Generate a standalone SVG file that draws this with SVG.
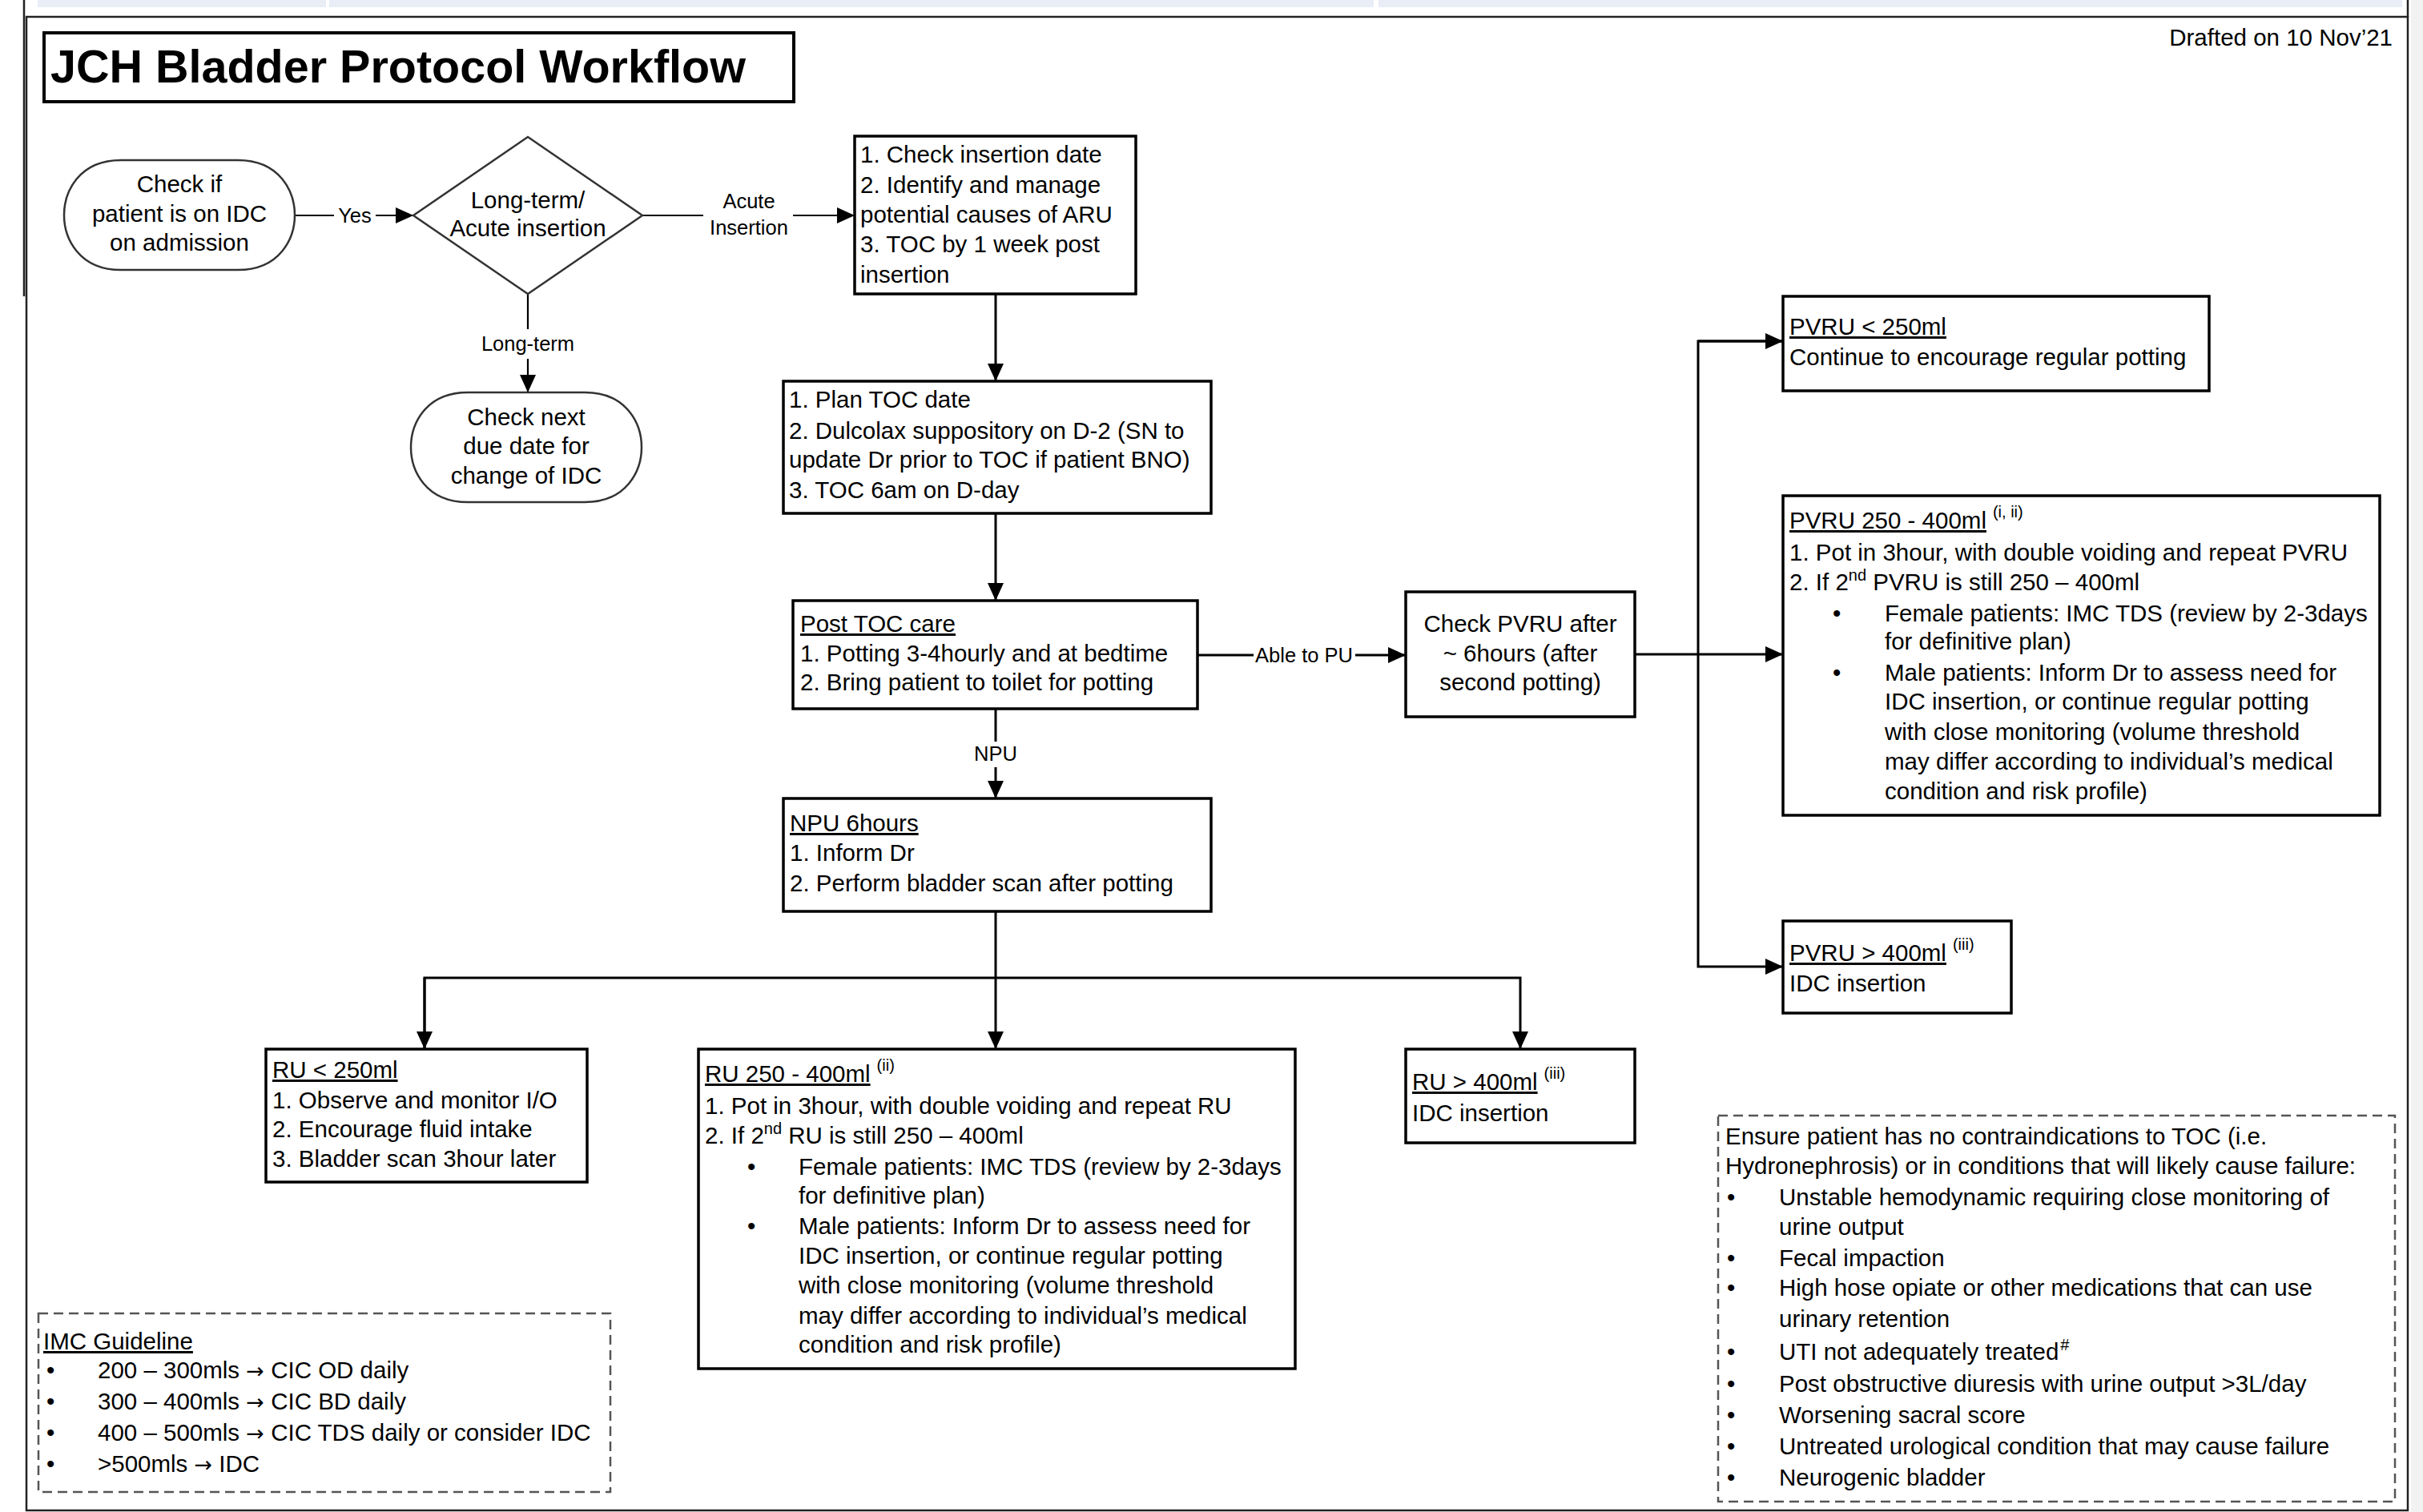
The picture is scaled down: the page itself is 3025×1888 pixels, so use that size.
<svg xmlns="http://www.w3.org/2000/svg" width="3025" height="1888" viewBox="0 0 3025 1888">
<defs>
<style>
.t{font-family:'Liberation Sans',Arial,sans-serif;font-size:29.5px;fill:#000}
.c{text-anchor:middle}
.lbl{font-family:'Liberation Sans',Arial,sans-serif;font-size:25.5px;fill:#000;text-anchor:middle}
.box{fill:#fff;stroke:#000;stroke-width:3.5}
.term{fill:#fff;stroke:#333;stroke-width:2.5}
.ln{stroke:#000;stroke-width:3;fill:none}
.thin{stroke:#000;stroke-width:2.2;fill:none}
.dash{fill:none;stroke:#555;stroke-width:2.5;stroke-dasharray:12 7}
.u{text-decoration:underline}
.sup{font-size:20px}
.ar{font-family:'DejaVu Sans',sans-serif;font-size:27px}
</style>
<marker id="ah" markerWidth="22" markerHeight="20" refX="22" refY="10" orient="auto" markerUnits="userSpaceOnUse"><path d="M0,0 L22,10 L0,20 Z" fill="#000"/></marker>
</defs>
<rect x="0" y="0" width="3025" height="1888" fill="#fff"/>
<rect x="3010" y="0" width="15" height="1888" fill="#f2f2f2"/>
<g id="frame">
<rect x="47" y="0" width="360" height="9" fill="#e8edf6"/>
<rect x="411" y="0" width="1304" height="9" fill="#e8edf6"/>
<rect x="1721" y="0" width="1278" height="9" fill="#e8edf6"/>
<rect x="33" y="21" width="2973" height="1865" fill="none" stroke="#222" stroke-width="2.5"/>
<line x1="30" y1="0" x2="30" y2="370" stroke="#222" stroke-width="2.5"/>
<line x1="3006" y1="0" x2="3006" y2="21" stroke="#222" stroke-width="2.5"/>
</g>
<g id="title">
<rect x="55" y="41" width="936" height="86" fill="#fff" stroke="#000" stroke-width="4"/>
<text x="63" y="103" font-family="'Liberation Sans',Arial,sans-serif" font-size="57.5" font-weight="bold">JCH Bladder Protocol Workflow</text>
</g>
<text id="drafted" class="t" x="2987" y="57" font-size="31" text-anchor="end">Drafted on 10 Nov’21</text>

<g id="connectors">
<line class="thin" x1="368" y1="269" x2="417" y2="269"/>
<line class="thin" x1="469" y1="269" x2="516" y2="269" marker-end="url(#ah)"/>
<text class="lbl" x="443" y="278">Yes</text>
<line class="thin" x1="802" y1="269" x2="878" y2="269"/>
<line class="thin" x1="990" y1="269" x2="1067" y2="269" marker-end="url(#ah)"/>
<text class="lbl" x="935" y="260">Acute</text>
<text class="lbl" x="935" y="293">Insertion</text>
<line class="thin" x1="659" y1="367" x2="659" y2="411"/>
<line class="thin" x1="659" y1="448" x2="659" y2="490" marker-end="url(#ah)"/>
<text class="lbl" x="659" y="438">Long-term</text>
<line class="ln" x1="1243" y1="367" x2="1243" y2="476" marker-end="url(#ah)"/>
<line class="ln" x1="1243" y1="641" x2="1243" y2="750" marker-end="url(#ah)"/>
<line class="ln" x1="1495" y1="818" x2="1565" y2="818"/>
<line class="ln" x1="1692" y1="818" x2="1755" y2="818" marker-end="url(#ah)"/>
<text class="lbl" x="1628" y="827">Able to PU</text>
<line class="ln" x1="2041" y1="817" x2="2226" y2="817" marker-end="url(#ah)"/>
<polyline class="ln" points="2226,426 2120,426 2120,1207 2226,1207" marker-end="url(#ah)"/>
<line class="ln" x1="2120" y1="426" x2="2226" y2="426" marker-end="url(#ah)"/>
<line class="ln" x1="1243" y1="885" x2="1243" y2="926"/>
<line class="ln" x1="1243" y1="958" x2="1243" y2="997" marker-end="url(#ah)"/>
<text class="lbl" x="1243" y="950">NPU</text>
<line class="ln" x1="1243" y1="1138" x2="1243" y2="1310" marker-end="url(#ah)"/>
<polyline class="ln" points="530,1310 530,1221 1898,1221 1898,1310" marker-end="url(#ah)"/>
<line class="ln" x1="530" y1="1221" x2="530" y2="1310" marker-end="url(#ah)"/>
</g>

<g id="start">
<path class="term" d="M151,200 H297 C350,200 368,240 368,268.5 C368,297 350,337 297,337 H151 C98,337 80,297 80,268.5 C80,240 98,200 151,200 Z"/>
<text class="t c" x="224" y="240">Check if</text>
<text class="t c" x="224" y="277">patient is on IDC</text>
<text class="t c" x="224" y="313">on admission</text>
</g>
<g id="decision">
<polygon class="term" points="659,171 802,269 659,367 516,269"/>
<text class="t c" x="659" y="260">Long-term/</text>
<text class="t c" x="659" y="295">Acute insertion</text>
</g>
<g id="check-next">
<path class="term" d="M584,490 H730 C783,490 801,530 801,558.5 C801,587 783,627 730,627 H584 C531,627 513,587 513,558.5 C513,530 531,490 584,490 Z"/>
<text class="t c" x="657" y="531">Check next</text>
<text class="t c" x="657" y="567">due date for</text>
<text class="t c" x="657" y="604">change of IDC</text>
</g>
<g id="check-insertion">
<rect class="box" x="1067" y="170" width="351" height="197"/>
<text class="t" x="1074" y="203">1. Check insertion date</text>
<text class="t" x="1074" y="241">2. Identify and manage</text>
<text class="t" x="1074" y="278">potential causes of ARU</text>
<text class="t" x="1074" y="315">3. TOC by 1 week post</text>
<text class="t" x="1074" y="353">insertion</text>
</g>
<g id="plan-toc">
<rect class="box" x="978" y="476" width="534" height="165"/>
<text class="t" x="985" y="509">1. Plan TOC date</text>
<text class="t" x="985" y="548">2. Dulcolax suppository on D-2 (SN to</text>
<text class="t" x="985" y="584">update Dr prior to TOC if patient BNO)</text>
<text class="t" x="985" y="622">3. TOC 6am on D-day</text>
</g>
<g id="post-toc">
<rect class="box" x="990" y="750" width="505" height="135"/>
<text class="t u" x="999" y="789">Post TOC care</text>
<text class="t" x="999" y="826">1. Potting 3-4hourly and at bedtime</text>
<text class="t" x="999" y="862">2. Bring patient to toilet for potting</text>
</g>
<g id="check-pvru">
<rect class="box" x="1755" y="739" width="286" height="156"/>
<text class="t c" x="1898" y="789">Check PVRU after</text>
<text class="t c" x="1898" y="826">~ 6hours (after</text>
<text class="t c" x="1898" y="862">second potting)</text>
</g>
<g id="pvru-lt250">
<rect class="box" x="2226" y="370" width="532" height="118"/>
<text class="t u" x="2234" y="418">PVRU &lt; 250ml</text>
<text class="t" x="2234" y="456">Continue to encourage regular potting</text>
</g>
<g id="pvru-250-400">
<rect class="box" x="2226" y="619" width="745" height="399"/>
<text class="t" x="2234" y="660"><tspan class="u">PVRU 250 - 400ml</tspan><tspan class="sup" dx="8" dy="-14">(i, ii)</tspan></text>
<text class="t" x="2234" y="700">1. Pot in 3hour, with double voiding and repeat PVRU</text>
<text class="t" x="2234" y="737">2. If 2<tspan class="sup" dy="-12">nd</tspan><tspan dy="12"> PVRU is still 250 – 400ml</tspan></text>
<text class="t" x="2288" y="776">•</text>
<text class="t" x="2353" y="776">Female patients: IMC TDS (review by 2-3days</text>
<text class="t" x="2353" y="811">for definitive plan)</text>
<text class="t" x="2288" y="850">•</text>
<text class="t" x="2353" y="850">Male patients: Inform Dr to assess need for</text>
<text class="t" x="2353" y="886">IDC insertion, or continue regular potting</text>
<text class="t" x="2353" y="924">with close monitoring (volume threshold</text>
<text class="t" x="2353" y="961">may differ according to individual’s medical</text>
<text class="t" x="2353" y="998">condition and risk profile)</text>
</g>
<g id="pvru-gt400">
<rect class="box" x="2226" y="1150" width="285" height="115"/>
<text class="t" x="2234" y="1200"><tspan class="u">PVRU &gt; 400ml</tspan><tspan class="sup" dx="8" dy="-14">(iii)</tspan></text>
<text class="t" x="2234" y="1238">IDC insertion</text>
</g>
<g id="npu">
<rect class="box" x="978" y="997" width="534" height="141"/>
<text class="t u" x="986" y="1038">NPU 6hours</text>
<text class="t" x="986" y="1075">1. Inform Dr</text>
<text class="t" x="986" y="1113">2. Perform bladder scan after potting</text>
</g>
<g id="ru-lt250">
<rect class="box" x="332" y="1310" width="401" height="166"/>
<text class="t u" x="340" y="1346">RU &lt; 250ml</text>
<text class="t" x="340" y="1384">1. Observe and monitor I/O</text>
<text class="t" x="340" y="1420">2. Encourage fluid intake</text>
<text class="t" x="340" y="1457">3. Bladder scan 3hour later</text>
</g>
<g id="ru-250-400">
<rect class="box" x="872" y="1310" width="745" height="399"/>
<text class="t" x="880" y="1351"><tspan class="u">RU 250 - 400ml</tspan><tspan class="sup" dx="8" dy="-14">(ii)</tspan></text>
<text class="t" x="880" y="1391">1. Pot in 3hour, with double voiding and repeat RU</text>
<text class="t" x="880" y="1428">2. If 2<tspan class="sup" dy="-12">nd</tspan><tspan dy="12"> RU is still 250 – 400ml</tspan></text>
<text class="t" x="933" y="1467">•</text>
<text class="t" x="997" y="1467">Female patients: IMC TDS (review by 2-3days</text>
<text class="t" x="997" y="1503">for definitive plan)</text>
<text class="t" x="933" y="1541">•</text>
<text class="t" x="997" y="1541">Male patients: Inform Dr to assess need for</text>
<text class="t" x="997" y="1578">IDC insertion, or continue regular potting</text>
<text class="t" x="997" y="1615">with close monitoring (volume threshold</text>
<text class="t" x="997" y="1653">may differ according to individual’s medical</text>
<text class="t" x="997" y="1689">condition and risk profile)</text>
</g>
<g id="ru-gt400">
<rect class="box" x="1755" y="1310" width="286" height="117"/>
<text class="t" x="1763" y="1361"><tspan class="u">RU &gt; 400ml</tspan><tspan class="sup" dx="8" dy="-14">(iii)</tspan></text>
<text class="t" x="1763" y="1400">IDC insertion</text>
</g>
<g id="imc-guideline">
<rect class="dash" x="48" y="1640" width="714" height="223"/>
<text class="t u" x="54" y="1685">IMC Guideline</text>
<text class="t" x="58" y="1721">•</text><text class="t" x="122" y="1721">200 – 300mls <tspan class="ar">→</tspan> CIC OD daily</text>
<text class="t" x="58" y="1760">•</text><text class="t" x="122" y="1760">300 – 400mls <tspan class="ar">→</tspan> CIC BD daily</text>
<text class="t" x="58" y="1799">•</text><text class="t" x="122" y="1799">400 – 500mls <tspan class="ar">→</tspan> CIC TDS daily or consider IDC</text>
<text class="t" x="58" y="1838">•</text><text class="t" x="122" y="1838">&gt;500mls <tspan class="ar">→</tspan> IDC</text>
</g>
<g id="contraindications">
<rect class="dash" x="2145" y="1393" width="845" height="482"/>
<text class="t" x="2154" y="1429">Ensure patient has no contraindications to TOC (i.e.</text>
<text class="t" x="2154" y="1466">Hydronephrosis) or in conditions that will likely cause failure:</text>
<text class="t" x="2156" y="1505">•</text><text class="t" x="2221" y="1505">Unstable hemodynamic requiring close monitoring of</text>
<text class="t" x="2221" y="1542">urine output</text>
<text class="t" x="2156" y="1581">•</text><text class="t" x="2221" y="1581">Fecal impaction</text>
<text class="t" x="2156" y="1618">•</text><text class="t" x="2221" y="1618">High hose opiate or other medications that can use</text>
<text class="t" x="2221" y="1657">urinary retention</text>
<text class="t" x="2156" y="1698">•</text><text class="t" x="2221" y="1698">UTI not adequately treated<tspan class="sup" dx="2" dy="-12">#</tspan></text>
<text class="t" x="2156" y="1738">•</text><text class="t" x="2221" y="1738">Post obstructive diuresis with urine output &gt;3L/day</text>
<text class="t" x="2156" y="1777">•</text><text class="t" x="2221" y="1777">Worsening sacral score</text>
<text class="t" x="2156" y="1816">•</text><text class="t" x="2221" y="1816">Untreated urological condition that may cause failure</text>
<text class="t" x="2156" y="1855">•</text><text class="t" x="2221" y="1855">Neurogenic bladder</text>
</g>
</svg>
